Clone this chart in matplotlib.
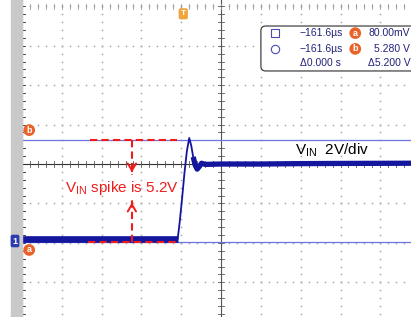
import numpy as np
import matplotlib
matplotlib.use("Agg")
import matplotlib.pyplot as plt
from matplotlib.patches import FancyBboxPatch, Rectangle

plt.rcParams['font.family'] = ['Liberation Sans', 'DejaVu Sans']
plt.rcParams['mathtext.fontset'] = 'custom'
plt.rcParams['mathtext.rm'] = 'Liberation Sans'
plt.rcParams['mathtext.default'] = 'regular'

# scope settings
volts_per_div = 2.0
offset_v = 4.06          # volts at the centre line

# VIN trace (time in divisions, volts)
t_div = [-5.0, -1.09, -1.04, -0.98, -0.92, -0.86, -0.80, -0.75, -0.70, -0.65,
         -0.60, -0.54, -0.49, -0.40, 0.0, 1.0, 2.0, 3.0, 4.77]
vin = [0.26, 0.26, 1.10, 2.30, 3.60, 4.70, 5.38, 5.00, 4.42, 4.00,
       3.80, 3.95, 4.10, 4.04, 4.06, 4.06, 4.08, 4.09, 4.10]

# cursor readout
cursor_a = 0.08
cursor_b = 5.28
cursor_time = '\u2212161.6\u00b5s'
readout = [('80.00mV', 'a'), ('5.280 V', 'b')]
delta_t = '\u03940.000 s'
delta_v = '\u03945.200 V'

def to_div(v):
    return (np.asarray(v) - offset_v) / volts_per_div

trace_col = '#14169e'
cursor_col = '#6d73e3'
red = '#f01c1c'
orange = '#e8622a'

fig = plt.figure(figsize=(4.11, 3.17), dpi=100)
fig.patches.append(Rectangle((11/411, 0), 11/411, 1, transform=fig.transFigure,
                             color='#c9c9c9', zorder=0))
ax = fig.add_axes([22/411, 0, 389/411, 1])
ax.set_xlim(-5, 4.77)
ax.set_ylim(-3.88, 4.16)
ax.axis('off')

# dotted graticule
minor = np.arange(-5, 5.01, 0.2)
for gx in range(-4, 5):
    if gx != 0:
        ax.plot(np.full_like(minor, gx), minor, ls='none', marker='s', ms=1.1,
                color='#a8a8a8', mew=0)
for gy in range(-3, 5):
    if gy != 0:
        ax.plot(minor, np.full_like(minor, gy), ls='none', marker='s', ms=1.1,
                color='#a8a8a8', mew=0)

# centre lines and borders with ticks
ax.axhline(0, color='#333333', lw=0.8)
ax.axvline(0, color='#555555', lw=0.8)
ax.axvline(-5, color='#202040', lw=1.5)
for m in minor:
    ax.plot([m, m], [-0.07, 0.07], color='#555555', lw=0.6)
    ax.plot([-0.07, 0.07], [m, m], color='#555555', lw=0.6)
    ax.plot([-5, -4.92], [m, m], color='#202040', lw=0.6)
    ax.plot([m, m], [3.93, 4.07], color='#9a9a9a', lw=0.6)

# cursor lines
ax.axhline(to_div(cursor_b), color=cursor_col, lw=0.9)
ax.axhline(to_div(cursor_a), color=cursor_col, lw=0.9)

# trace: thin edge plus thick noisy flat parts
t = np.array(t_div)
y = to_div(vin)
ax.plot(t, y, color=trace_col, lw=1.3, zorder=5)
low = t <= -1.09
ax.plot(t[low], y[low], color=trace_col, lw=4.8, zorder=5, solid_capstyle='butt')
high = t >= -0.70
ax.plot(t[high], y[high], color=trace_col, lw=3.8, zorder=5, solid_capstyle='butt')

# red annotation
yb, ya = to_div(cursor_b), to_div(cursor_a)
ax.plot([-3.29, -1.11], [yb, yb], color=red, lw=1.5, ls=(0, (3.5, 2)), zorder=6)
ax.plot([-3.34, -1.11], [ya, ya], color=red, lw=1.5, ls=(0, (3.5, 2)), zorder=6)
ax.plot([-2.24, -2.24], [yb, -0.28], color=red, lw=1.5, ls=(0, (3.5, 2)), zorder=6)
ax.plot([-2.24, -2.24], [ya, -0.91], color=red, lw=1.5, ls=(0, (3.5, 2)), zorder=6)
ax.annotate('', xy=(-2.24, -0.28), xytext=(-2.24, -0.1),
            arrowprops=dict(arrowstyle='->,head_length=0.5,head_width=0.3', color=red, lw=1.4))
ax.annotate('', xy=(-2.24, -0.91), xytext=(-2.24, -1.09),
            arrowprops=dict(arrowstyle='->,head_length=0.5,head_width=0.3', color=red, lw=1.4))
ax.text(-2.50, -0.62, 'V$_{IN}$ spike is 5.2V', color=red, fontsize=11,
        ha='center', va='center', zorder=7)

ax.text(1.86, 0.36, 'V$_{IN}$  2V/div', color='black', fontsize=11,
        ha='left', va='center', zorder=7)

# channel / cursor markers
circ = dict(boxstyle='circle,pad=0.15', fc=orange, ec='none')
ax.text(-4.82, 0.86, 'b', color='white', fontsize=6.5, ha='center', va='center',
        bbox=circ, fontweight='bold', zorder=8)
ax.text(-4.82, -2.18, 'a', color='white', fontsize=6.5, ha='center', va='center',
        bbox=circ, fontweight='bold', zorder=8)
fig.text(15/411, 1 - 241/317, '1', color='white', fontsize=6.5, ha='center', va='center',
         fontweight='bold', bbox=dict(boxstyle='round,pad=0.2', fc='#2a3cb0', ec='none'))
ax.text(-0.95, 3.81, 'T', color='white', fontsize=6, ha='center', va='center',
        fontweight='bold', bbox=dict(boxstyle='round,pad=0.25', fc='#f0a43c', ec='none'),
        zorder=8)

# readout box
box = FancyBboxPatch((1.0, 2.36), 4.5, 1.14, boxstyle='round,pad=0,rounding_size=0.12',
                     fc='white', ec='#444444', lw=0.9, zorder=8, mutation_aspect=1.0)
ax.add_patch(box)
txt = dict(color='#23237a', fontsize=7.5, va='center', zorder=9)
ax.plot(1.36, 3.32, marker='s', mfc='none', mec='#4a4ab0', ms=6, mew=0.8, zorder=9)
ax.plot(1.36, 2.92, marker='o', mfc='none', mec='#4a4ab0', ms=6, mew=0.8, zorder=9)
ax.text(1.98, 3.32, cursor_time, ha='left', **txt)
ax.text(1.98, 2.92, cursor_time, ha='left', **txt)
ax.text(1.98, 2.56, delta_t, ha='left', **txt)
for (val, lab), yy in zip(readout, [3.32, 2.92]):
    ax.text(3.37, yy, lab, color='white', fontsize=6.5, ha='center', va='center',
            bbox=circ, fontweight='bold', zorder=9)
    ax.text(4.75, yy, val, ha='right', **txt)
ax.text(4.75, 2.56, delta_v, ha='right', **txt)

fig.savefig('out.png', dpi=100)
